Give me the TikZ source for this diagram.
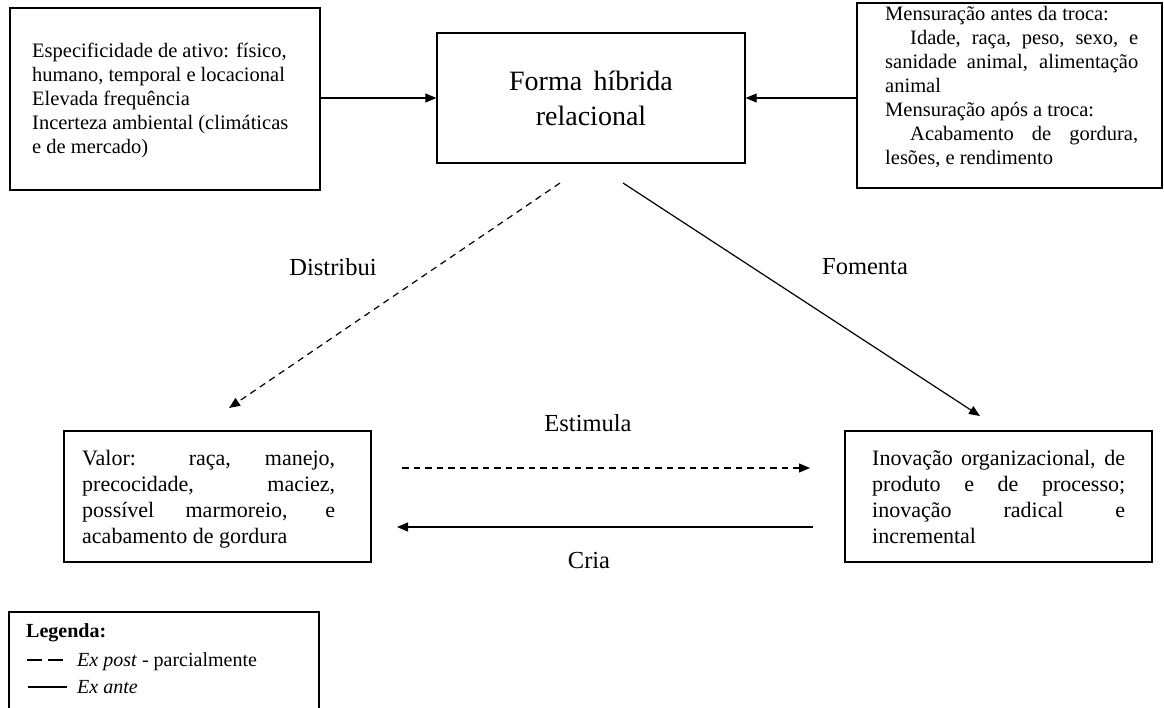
\documentclass[tikz,border=0pt]{standalone}
\usepackage{fontspec}
\setmainfont{Liberation Serif}
\usetikzlibrary{arrows.meta}

% natural interword spaces of the font (align=left makes them rigid)
\newcommand{\natsp}{\spaceskip=0pt\xspaceskip=0pt\relax}
% one justified line of a given width
\newcommand{\jline}[2]{{\natsp\makebox[#1][s]{#2}}}
\newcommand{\topfont}{\fontsize{20.5}{24}\selectfont}
\newcommand{\botfont}{\fontsize{22}{26}\selectfont}
\newcommand{\midfont}{\fontsize{28}{34.5}\selectfont}
\newcommand{\lblfont}{\fontsize{24.5}{28}\selectfont}
\newcommand{\legfont}{\fontsize{20}{28}\selectfont}

\tikzset{
  box/.style={draw=black, line width=1.3pt, inner sep=0pt, rectangle},
  txt/.style={inner sep=0pt, anchor=base west, align=left},
  lbl/.style={inner sep=0pt, font=\lblfont},
  link/.style={line width=1.2pt, -{Triangle[length=11pt,width=9pt]}},
  dashlink/.style={link, dash pattern=on 6.5pt off 5pt},
}

\begin{document}
\begin{tikzpicture}[x=1pt,y=-1pt]
\useasboundingbox (0,0) rectangle (1164,708);

% frames
\node[box, minimum width=310pt, minimum height=182pt] (spec)  at (165,99)     {};
\node[box, minimum width=308pt, minimum height=130pt] (forma) at (591,98)     {};
\node[box, minimum width=305pt, minimum height=185pt] (mens)  at (1009.5,95.5) {};
\node[box, minimum width=307pt, minimum height=131pt] (valor) at (217.5,496.5) {};
\node[box, minimum width=307pt, minimum height=131pt] (inov)  at (998.5,496.5) {};

% box texts
\node[txt, font=\topfont, text width=270pt] (specT) at (32,58)
  {\natsp Especificidade de ativo: físico,\\
   humano, temporal e locacional\\
   Elevada frequência\\
   Incerteza ambiental (climáticas\\
   e de mercado)};

\node[inner sep=0pt, anchor=base, align=center, text width=300pt, font=\midfont] (formaT) at (591,91)
  {\natsp Forma híbrida\\ relacional};

\node[txt, font=\topfont, text width=253pt] (mensT) at (885,20.5)
  {\natsp Mensuração antes da troca:\\
   \hspace*{25pt}\jline{228pt}{Idade, raça, peso, sexo, e}\\
   \jline{253pt}{sanidade animal, alimentação}\\
   animal\\
   Mensuração após a troca:\\
   \hspace*{25pt}\jline{228pt}{Acabamento de gordura,}\\
   lesões, e rendimento};

\node[txt, font=\botfont, text width=253pt] (valorT) at (82,465)
  {\natsp\jline{253pt}{Valor: raça, manejo,}\\
   \jline{253pt}{precocidade, maciez,}\\
   \jline{253pt}{possível marmoreio, e}\\
   acabamento de gordura};

\node[txt, font=\botfont, text width=253pt] (inovT) at (872,465)
  {\natsp\jline{253pt}{Inovação organizacional, de}\\
   \jline{253pt}{produto e de processo;}\\
   \jline{253pt}{inovação radical e}\\
   incremental};

% connectors into the central box
\draw[link] (spec.east |- forma.west) -- (forma.west);
\draw[link] (mens.west |- forma.east) -- (forma.east);

% free-ended connectors
\coordinate (dA) at (560,183);
\coordinate (dB) at (229,408);
\coordinate (sA) at (623,183);
\coordinate (sB) at (980,416);
\coordinate (hA) at (402,468);
\coordinate (hB) at (810,468);
\coordinate (cA) at (813,527);
\coordinate (cB) at (397,527);

\draw[dashlink] (dA) -- (dB);
\draw[link] (sA) -- (sB);
\draw[dashlink] (hA) -- (hB);
\draw[link] (cA) -- (cB);

% connector labels
\node[lbl] (distribui) at (333,267) {Distribui};
\node[lbl] (fomenta)   at (865,267) {Fomenta};
\node[lbl] (estimula)  at (588,423) {Estimula};
\node[lbl] (cria)      at (589,561) {Cria};

% legend
\draw[line width=1.3pt] (9,710) -- (9,612) -- (319,612) -- (319,710);
\node[txt, font=\legfont\bfseries] (legT) at (26,637) {Legenda:};
\draw[line width=2.6pt, dash pattern=on 15pt off 6pt] (27,660) -- (63,660);
\node[txt, font=\legfont] (legDash) at (77,666) {\natsp\textit{Ex post} - parcialmente};
\draw[line width=2.8pt] (28,687) -- (67,687);
\node[txt, font=\legfont] (legSolid) at (77,693) {\natsp\textit{Ex ante}};
\end{tikzpicture}
\end{document}
